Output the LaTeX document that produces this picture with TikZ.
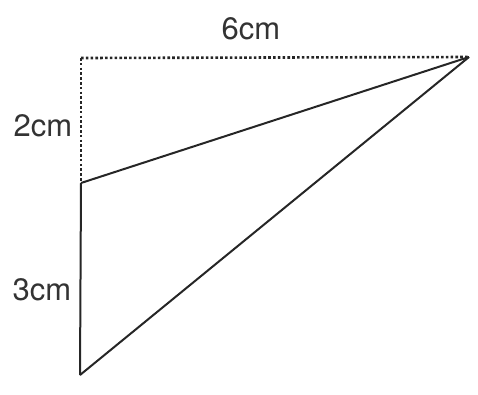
\documentclass[tikz,border=0pt]{standalone}
\usepackage{fontspec}
\setmainfont{TeX Gyre Heros}
\begin{document}
\begin{tikzpicture}[x=1pt,y=-1pt,
  solidline/.style={line width=2pt,black!85},
  dotline/.style={line width=2.6pt,black!85,dash pattern=on 2.6pt off 2.2pt},
  lbl/.style={font=\fontsize{31}{31}\selectfont,text=black!80,inner sep=0pt}]
\useasboundingbox (0,0) rectangle (478,394);
\coordinate (TL) at (81,58);
\coordinate (TR) at (469,57);
\coordinate (M) at (81,183);
\coordinate (B) at (80,375);
\draw[dotline] (TL) -- (TR);
\draw[dotline] (TL) -- (M);
\draw[solidline] (M) -- (TR);
\draw[solidline] (M) -- (B);
\draw[solidline] (B) -- (TR);
\node[lbl] (l6) at (251,29) {6cm};
\node[lbl] (l2) at (43,126) {2cm};
\node[lbl] (l3) at (42,290) {3cm};
\end{tikzpicture}
\end{document}
